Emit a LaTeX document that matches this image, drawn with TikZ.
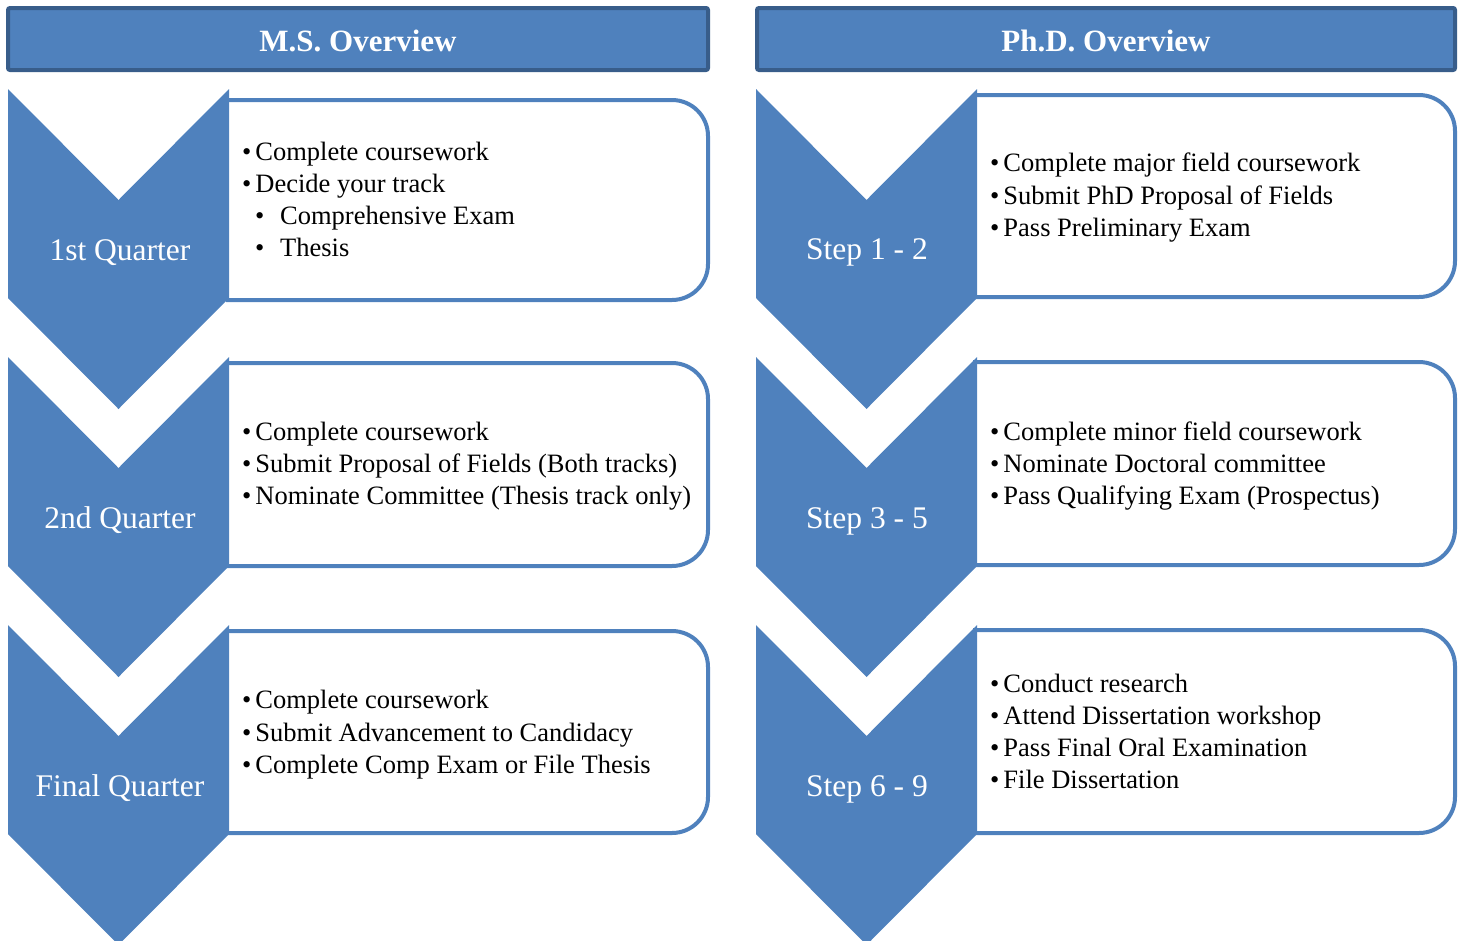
\documentclass[tikz,border=0pt]{standalone}
\usepackage{fontspec}
\setmainfont{Liberation Serif}
\definecolor{blu}{HTML}{4F81BD}
\definecolor{dblu}{HTML}{385D8A}
\newcommand{\chev}[2]{% x-left, top
  \fill[blu] (#1,#2) -- ++(110.5,111) -- ++(110.5,-111) -- ++(0,209) -- ++(-110.5,111) -- ++(-110.5,-111) -- cycle;}
\newcommand{\bul}{•\hspace{4pt}}
\tikzset{
  header/.style={draw=dblu, fill=blu, line width=4pt, rounded corners=2pt},
  htext/.style={text=white, font=\fontsize{31}{36}\selectfont\bfseries, inner sep=0},
  infobox/.style={draw=blu, line width=4pt, rounded corners=36pt},
  clabel/.style={text=white, anchor=base, inner sep=0, font=\fontsize{31.5}{36}\selectfont},
  item/.style={anchor=base west, inner sep=0, font=\fontsize{26.5}{32}\selectfont},
}
\begin{document}
\begin{tikzpicture}[x=1pt,y=-1pt]
\useasboundingbox (0,0) rectangle (1462,940);
% headers
\draw[header] (8,8) rectangle (708,70);
\draw[header] (757,8) rectangle (1455,70);
\node[htext] (hms) at (358,41) {M.S. Overview};
\node[htext] (hphd) at (1106,41) {Ph.D. Overview};
% boxes left
\draw[infobox] (226,100) -- (708,100) -- (708,300) -- (226,300);
\draw[infobox] (226,363) -- (708,363) -- (708,566) -- (226,566);
\draw[infobox] (226,631) -- (708,631) -- (708,833) -- (226,833);
% boxes right
\draw[infobox] (973,95) -- (1455,95) -- (1455,297) -- (973,297);
\draw[infobox] (973,362) -- (1455,362) -- (1455,565) -- (973,565);
\draw[infobox] (973,630) -- (1455,630) -- (1455,833) -- (973,833);
% chevrons
\chev{8}{89}\chev{8}{357}\chev{8}{625}
\chev{756}{89}\chev{756}{357}\chev{756}{625}
% chevron labels
\node[clabel] (q1) at (120,260) {1st Quarter};
\node[clabel] (q2) at (120,528) {2nd Quarter};
\node[clabel] (q3) at (120,796) {Final Quarter};
\node[clabel] (s1) at (867,259) {Step 1 - 2};
\node[clabel] (s2) at (867,528) {Step 3 - 5};
\node[clabel] (s3) at (867,796) {Step 6 - 9};
% left box 1
\node[item] (a1) at (242,160) {\bul Complete coursework};
\node[item] (a2) at (242,192) {\bul Decide your track};
\node[item] (a3b) at (255,224) {•};
\node[item] (a3) at (280,224) {Comprehensive Exam};
\node[item] (a4b) at (255,256) {•};
\node[item] (a4) at (280,256) {Thesis};
% left box 2
\node[item] (b1) at (242,440) {\bul Complete coursework};
\node[item] (b2) at (242,472) {\bul Submit Proposal of Fields (Both tracks)};
\node[item] (b3) at (242,504) {\bul Nominate Committee (Thesis track only)};
% left box 3
\node[item] (c1) at (242,708) {\bul Complete coursework};
\node[item] (c2) at (242,741) {\bul Submit Advancement to Candidacy};
\node[item] (c3) at (242,773) {\bul Complete Comp Exam or File Thesis};
% right box 1
\node[item] (d1) at (990,171) {\bul Complete major field coursework};
\node[item] (d2) at (990,204) {\bul Submit PhD Proposal of Fields};
\node[item] (d3) at (990,236) {\bul Pass Preliminary Exam};
% right box 2
\node[item] (e1) at (990,440) {\bul Complete minor field coursework};
\node[item] (e2) at (990,472) {\bul Nominate Doctoral committee};
\node[item] (e3) at (990,504) {\bul Pass Qualifying Exam (Prospectus)};
% right box 3
\node[item] (f1) at (990,692) {\bul Conduct research};
\node[item] (f2) at (990,724) {\bul Attend Dissertation workshop};
\node[item] (f3) at (990,756) {\bul Pass Final Oral Examination};
\node[item] (f4) at (990,788) {\bul File Dissertation};
\end{tikzpicture}
\end{document}
